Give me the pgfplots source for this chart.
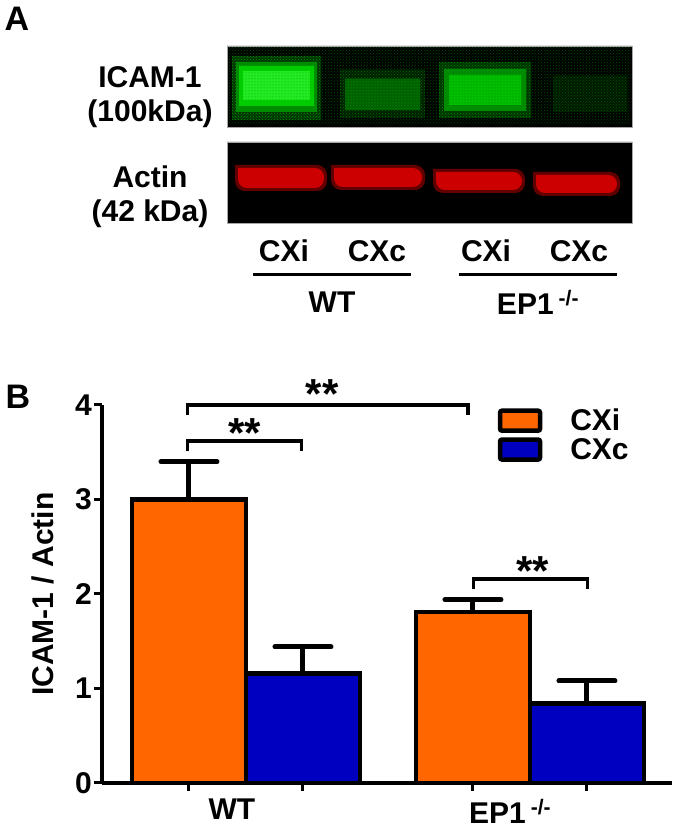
\documentclass[border=0pt]{standalone}
\usepackage{fontspec}
\setmainfont{Liberation Sans}
\usepackage{pgfplots}
\pgfplotsset{compat=1.18}
\usetikzlibrary{patterns}
\definecolor{cxi}{RGB}{255,102,0}
\definecolor{cxc}{RGB}{0,0,192}
\newcommand{\bigfont}{\bfseries\fontsize{30}{34}\selectfont}
\newcommand{\panelfont}{\bfseries\fontsize{34}{38}\selectfont}
\newcommand{\starfont}{\bfseries\fontsize{42}{46}\selectfont}
% filled rectangle in pixel coordinates: x1,y1,x2,y2,colour,extra
\newcommand{\blotrect}[6]{\addplot[fill=#5, draw=none, forget plot, #6] coordinates {(#1,#2) (#3,#2) (#3,#4) (#1,#4) (#1,#2)};}
\newcommand{\dotrect}[6]{\addplot[pattern=#6, pattern color=#5, draw=none, forget plot] coordinates {(#1,#2) (#3,#2) (#3,#4) (#1,#4) (#1,#2)};}
\begin{document}
\begin{tikzpicture}[font=\bigfont]
% ---------------- Panel A (pixel coordinates) ----------------
\begin{axis}[at={(0pt,0pt)}, anchor=south west, scale only axis,
  width=675pt, height=829pt, xmin=0, xmax=675, ymin=0, ymax=829,
  y dir=reverse, hide axis, clip=false]
  % blot backgrounds
  \addplot[fill=black, draw=black!35, line width=0.8pt, forget plot] coordinates {(227,46) (632,46) (632,127) (227,127) (227,46)};
  \addplot[fill=black, draw=black!35, line width=0.8pt, forget plot] coordinates {(227,142) (632,142) (632,223) (227,223) (227,142)};
  % faint speckle over the ICAM-1 strip
  \dotrect{229}{48}{630}{125}{green!30!black}{crosshatch dots}
  % ICAM-1 (green) bands
  \blotrect{232}{56}{321}{120}{green!25!black}{opacity=0.8}
  \dotrect{232}{56}{321}{120}{green!60!black}{crosshatch dots}
  \blotrect{236}{62}{317}{112}{green!55!black}{}
  \blotrect{239}{66}{314}{106}{green!80!black}{}
  \blotrect{243}{71}{310}{100}{green!85!white!92!black}{}
  \dotrect{243}{71}{310}{100}{green!60!black}{dots}
  \blotrect{340}{70}{425}{118}{green!12!black}{}
  \dotrect{340}{70}{425}{118}{green!45!black}{crosshatch dots}
  \blotrect{345}{79}{420}{110}{green!38!black}{}
  \dotrect{345}{79}{420}{110}{green!70!black}{dots}
  \blotrect{439}{62}{531}{118}{green!20!black}{}
  \dotrect{439}{62}{531}{118}{green!55!black}{crosshatch dots}
  \blotrect{444}{69}{526}{111}{green!55!black}{}
  \blotrect{449}{75}{521}{105}{green!75!black}{}
  \dotrect{449}{75}{521}{105}{green!45!black}{dots}
  \blotrect{553}{76}{627}{112}{green!10!black}{}
  \dotrect{553}{76}{627}{112}{green!35!black}{crosshatch dots}
  % Actin (red) bands
  \blotrect{235}{165}{327}{191}{red!55!black}{rounded corners=10pt, opacity=0.7}
  \blotrect{238}{168}{324}{188}{red!80!black}{rounded corners=9pt}
  \blotrect{331}{165}{425}{190}{red!55!black}{rounded corners=10pt, opacity=0.7}
  \blotrect{334}{168}{422}{187}{red!80!black}{rounded corners=9pt}
  \blotrect{433}{169}{525}{193}{red!55!black}{rounded corners=10pt, opacity=0.7}
  \blotrect{436}{172}{522}{190}{red!80!black}{rounded corners=9pt}
  \blotrect{533}{172}{620}{196}{red!55!black}{rounded corners=10pt, opacity=0.7}
  \blotrect{536}{175}{617}{193}{red!80!black}{rounded corners=9pt}
  % lane underlines
  \addplot[black, line width=3pt, forget plot] coordinates {(253,275) (411,275)};
  \addplot[black, line width=3pt, forget plot] coordinates {(459,275) (617,275)};
  % texts
  \node[font=\panelfont] at (axis cs:17,19) {A};
  \node[font=\panelfont] at (axis cs:18,397) {B};
  \node at (axis cs:150,77) {ICAM-1};
  \node at (axis cs:150,114) {(100kDa)};
  \node at (axis cs:150,177) {Actin};
  \node at (axis cs:150,214) {(42 kDa)};
  \node at (axis cs:284,251) {CXi};
  \node at (axis cs:377,251) {CXc};
  \node at (axis cs:486,251) {CXi};
  \node at (axis cs:579,251) {CXc};
  \node at (axis cs:332,302) {WT};
  \node at (axis cs:538,302) {EP1\,\textsuperscript{-/-}};
\end{axis}
% ---------------- Panel B ----------------
\begin{axis}[at={(102pt,46pt)}, anchor=south west, scale only axis,
  width=570pt, height=378pt, xmin=0, xmax=5, ymin=0, ymax=4,
  clip=false,
  axis lines*=left, axis line style={line width=4pt, -},
  tick align=outside, major tick length=8pt,
  tick style={line width=3pt, black},
  ytick={0,1,2,3,4},
  xtick={0.763,1.763,3.254,4.254}, xticklabels={},
  extra x ticks={1.14,3.58},
  extra x tick labels={WT, EP1\,\textsuperscript{-/-}},
  extra x tick style={major tick length=0pt, tick label style={yshift=-15pt, inner sep=1pt}},
  /pgf/number format/assume math mode=true,
  tick label style={font=\bigfont},
  yticklabel style={inner sep=2pt},
  ylabel={ICAM-1 / Actin},
  ylabel style={font=\bigfont},
  every axis y label/.style={at={(axis description cs:-0.103,0.5)}, rotate=90, anchor=center},
  legend style={at={(axis cs:3.47,3.98)}, anchor=north west, draw=none, fill=none,
    font=\bigfont, row sep=2pt, inner sep=0pt},
  legend cell align=left,
]
\addplot[ybar, bar width=1, bar shift=0pt, fill=cxi, draw=black, line width=4.5pt,
  legend image code/.code={\draw[line width=4.5pt, rounded corners=2pt, draw=black, fill=cxi] (0pt,-10pt) rectangle (40pt,10pt);},
  error bars/.cd, y dir=plus, y explicit, error mark=|,
  error bar style={line width=5pt, black},
  error mark options={line width=5pt, mark size=28pt, black, line cap=round}]
  coordinates {(0.763,3.00) +- (0,0.40) (3.254,1.81) +- (0,0.13)};
\addlegendentry{\hspace*{26pt}CXi}
\addplot[ybar, bar width=1, bar shift=0pt, fill=cxc, draw=black, line width=4.5pt,
  legend image code/.code={\draw[line width=4.5pt, rounded corners=2pt, draw=black, fill=cxc] (0pt,-10pt) rectangle (40pt,10pt);},
  error bars/.cd, y dir=plus, y explicit, error mark=|,
  error bar style={line width=5pt, black},
  error mark options={line width=5pt, mark size=28pt, black, line cap=round}]
  coordinates {(1.763,1.16) +- (0,0.28) (4.254,0.84) +- (0,0.24)};
\addlegendentry{\hspace*{26pt}CXc}
% significance brackets
\addplot[black, line width=3.5pt, forget plot] coordinates {(0.75,3.89) (0.75,4.00) (3.21,4.00) (3.21,3.89)};
\addplot[black, line width=3.5pt, forget plot] coordinates {(0.75,3.51) (0.75,3.62) (1.75,3.62) (1.75,3.51)};
\addplot[black, line width=3.5pt, forget plot] coordinates {(3.26,2.05) (3.26,2.16) (4.26,2.16) (4.26,2.05)};
\node[font=\starfont] at (axis cs:1.93,4.12) {**};
\node[font=\starfont] at (axis cs:1.25,3.70) {**};
\node[font=\starfont] at (axis cs:3.78,2.24) {**};
\end{axis}
\pgfresetboundingbox
\path (0pt,0pt) rectangle (675pt,829pt);
\end{tikzpicture}
\end{document}
